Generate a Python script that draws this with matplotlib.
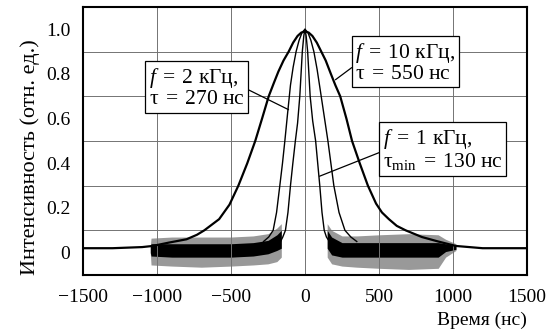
import numpy as np
import matplotlib.pyplot as plt

plt.rcParams['font.family'] = ['Liberation Serif', 'DejaVu Serif']
plt.rcParams['mathtext.fontset'] = 'custom'
plt.rcParams['mathtext.rm'] = 'Liberation Serif'
plt.rcParams['mathtext.it'] = 'Liberation Serif:italic'

# pulse shapes (time in ns, relative intensity)
t_10k = [-1500, -1300, -1100, -1030, -920, -800, -730, -680, -630, -580, -510, -450, -390,
         -336, -290, -245, -210, -180, -145, -110, -80, -50, -25, 0, 25, 50, 80, 110, 140,
         175, 205, 238, 280, 318, 370, 425, 480, 520, 567, 620, 680, 790, 900, 1020, 1200,
         1500]
i_10k = [0.02, 0.02, 0.025, 0.03, 0.045, 0.06, 0.08, 0.10, 0.125, 0.15, 0.215, 0.30, 0.40,
         0.50, 0.60, 0.70, 0.76, 0.81, 0.86, 0.90, 0.94, 0.97, 0.985, 0.99, 0.985, 0.97,
         0.94, 0.90, 0.86, 0.80, 0.75, 0.70, 0.60, 0.50, 0.40, 0.30, 0.22, 0.18, 0.15, 0.12,
         0.10, 0.07, 0.05, 0.03, 0.02, 0.02]

t_2k = [-280, -245, -215, -192, -170, -152, -136, -118, -98, -80, -60, -40, -20, 0, 20, 40,
        60, 82, 105, 130, 155, 175, 195, 230, 270, 310, 350]
i_2k = [0.05, 0.07, 0.10, 0.18, 0.30, 0.40, 0.50, 0.62, 0.75, 0.83, 0.90, 0.95, 0.985, 1.00,
        0.985, 0.95, 0.90, 0.82, 0.72, 0.61, 0.50, 0.40, 0.30, 0.18, 0.10, 0.07, 0.05]

t_1k = [-165, -150, -132, -115, -98, -82, -65, -50, -35, -18, -8, 0, 8, 18, 35, 52, 72, 86,
        100, 115, 130, 145, 165]
i_1k = [0.05, 0.07, 0.10, 0.18, 0.30, 0.40, 0.50, 0.58, 0.70, 0.90, 0.97, 1.00, 0.97, 0.90,
        0.70, 0.59, 0.50, 0.40, 0.30, 0.18, 0.10, 0.07, 0.05]

# noisy baseline of the 1 and 2 kHz traces (envelopes)
noise_l_t = [-1045, -1040, -900, -700, -500, -350, -250, -190, -160]
noise_l_hi = [0.03, 0.065, 0.07, 0.07, 0.07, 0.075, 0.085, 0.11, 0.13]
noise_l_lo = [0.0, -0.055, -0.06, -0.065, -0.06, -0.055, -0.05, -0.04, -0.02]
core_l_hi = [0.03, 0.04, 0.04, 0.04, 0.04, 0.045, 0.055, 0.08, 0.10]
core_l_lo = [0.0, -0.015, -0.02, -0.02, -0.02, -0.015, -0.005, 0.01, 0.02]

noise_r_t = [150, 180, 250, 350, 500, 700, 900, 950, 1020]
noise_r_hi = [0.13, 0.10, 0.075, 0.075, 0.08, 0.085, 0.08, 0.06, 0.04]
noise_r_lo = [-0.02, -0.05, -0.06, -0.065, -0.07, -0.075, -0.07, -0.02, 0.01]
core_r_hi = [0.10, 0.07, 0.045, 0.045, 0.045, 0.045, 0.045, 0.04, 0.035]
core_r_lo = [0.02, -0.01, -0.02, -0.02, -0.02, -0.02, -0.02, 0.005, 0.015]

fig = plt.figure(figsize=(5.53, 3.36), dpi=100)
ax = fig.add_axes([0.150, 0.1815, 0.803, 0.798])

ax.fill_between(noise_l_t, noise_l_lo, noise_l_hi, color='0.6', lw=0)
ax.fill_between(noise_r_t, noise_r_lo, noise_r_hi, color='0.6', lw=0)
ax.fill_between(noise_l_t, core_l_lo, core_l_hi, color='black', lw=0)
ax.fill_between(noise_r_t, core_r_lo, core_r_hi, color='black', lw=0)

ax.plot(t_10k, i_10k, color='black', lw=1.6)
ax.plot(t_2k, i_2k, color='black', lw=1.0)
ax.plot(t_1k, i_1k, color='black', lw=1.0)

ax.set_xlim(-1500, 1500)
ax.set_ylim(-0.1, 1.1)
ax.set_xticks([-1500, -1000, -500, 0, 500, 1000, 1500])
ax.set_yticks([0, 0.2, 0.4, 0.6, 0.8, 1.0])
ax.set_yticklabels(['0', '0.2', '0.4', '0.6', '0.8', '1.0'])
ax.set_yticks([0.1, 0.3, 0.5, 0.7, 0.9], minor=True)
ax.tick_params(which='both', length=0, labelsize=14)
ax.tick_params(axis='y', pad=9)
ax.tick_params(axis='x', pad=10)
ax.grid(axis='x', which='major', color='0.45', lw=0.7)
ax.grid(axis='y', which='minor', color='0.45', lw=0.7)
for s in ax.spines.values():
    s.set_linewidth(1.5)

ax.set_ylabel('Интенсивность (отн. ед.)', fontsize=16)
ax.yaxis.set_label_coords(-0.097, 0.44)
ax.set_xlabel('Время (нс)', fontsize=14)
ax.xaxis.set_label_coords(1.0, -0.135)
ax.xaxis.label.set_horizontalalignment('right')

box = dict(boxstyle='square,pad=0.15', fc='white', ec='black', lw=0.9)
line = dict(arrowstyle='-', color='black', lw=0.9, shrinkA=0, shrinkB=0)

ax.annotate('$f\\;=\\;2$ кГц,\n$\\mathrm{\\tau}\\;=\\;270$ нс', xy=(-111, 0.64),
            xytext=(-733, 0.738), ha='center', va='center', fontsize=15.5, linespacing=1.0,
            multialignment='left', bbox=box, arrowprops=dict(line, relpos=(1, 0.5)))
ax.annotate('$f\\;=\\;10$ кГц,\n$\\mathrm{\\tau}\\;=\\;550$ нс', xy=(206, 0.774),
            xytext=(679, 0.85), ha='center', va='center', fontsize=15.5, linespacing=1.0,
            multialignment='left', bbox=box, arrowprops=dict(line, relpos=(0, 0.45)))
ax.annotate('$f\\;=\\;1$ кГц,\n$\\mathrm{\\tau}_{\\mathrm{min}}\\;=\\;130$ нс', xy=(98, 0.342),
            xytext=(929, 0.46), ha='center', va='center', fontsize=15.5, linespacing=1.0,
            multialignment='left', bbox=box, arrowprops=dict(line, relpos=(0, 0.47)))

fig.savefig('out.png', dpi=100)
